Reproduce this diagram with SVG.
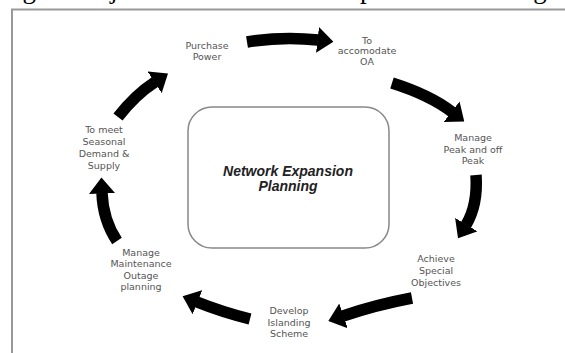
<svg xmlns="http://www.w3.org/2000/svg" width="565" height="353" viewBox="0 0 565 353">
<style>
.lbl{font-family:"DejaVu Sans","Liberation Sans",sans-serif;font-size:9.5px;fill:#555;text-anchor:middle}
.arr{fill:none;stroke:#000;stroke-width:11.5;stroke-linecap:butt}
.center{font-family:"Liberation Sans",Arial,sans-serif;font-size:14px;font-weight:bold;font-style:italic;fill:#222;text-anchor:middle}
</style>
<defs>
<marker id="head" markerUnits="userSpaceOnUse" viewBox="0 0 16 26" markerWidth="16" markerHeight="26" refX="0.5" refY="13" orient="auto">
<path d="M0,0 L16,13 L0,26 z" fill="#000"/>
</marker>
</defs>
<rect width="565" height="353" fill="#fff"/>
<text x="0" y="-2" font-family="Liberation Serif,serif" font-size="27" fill="#000">Fig. 3: Objectives of Network Expansion Planning</text>
<rect x="12" y="9.5" width="620" height="400" fill="none" stroke="#999" stroke-width="2"/>
<g id="center">
<rect x="188" y="107" width="201" height="141" rx="24" fill="#fff" stroke="#888" stroke-width="1.5"/>
<text class="center" x="288" y="176">Network Expansion</text>
<text class="center" x="288" y="191">Planning</text>
</g>
<g id="connectors">
<path class="arr" d="M247,42 Q283,36 318,40" stroke-width="12" marker-end="url(#head)"/>
<path class="arr" d="M392,83 Q430,95 452,112" marker-end="url(#head)"/>
<path class="arr" d="M476,175 Q478,205 466,225" stroke-width="12" marker-end="url(#head)"/>
<path class="arr" d="M412,298 Q375,305 343,316" marker-end="url(#head)"/>
<path class="arr" d="M250,319 Q222,312 197,302" marker-end="url(#head)"/>
<path class="arr" d="M117,241 Q103,220 102,193" marker-end="url(#head)"/>
<path class="arr" d="M118,117 Q135,95 155,82" marker-end="url(#head)"/>
</g>
<g id="purchase-power">
<text class="lbl" x="207" y="49">Purchase</text>
<text class="lbl" x="207" y="60">Power</text>
</g>
<g id="accomodate-oa">
<text class="lbl" x="367" y="44">To</text>
<text class="lbl" x="367" y="54">accomodate</text>
<text class="lbl" x="367" y="65">OA</text>
</g>
<g id="peak">
<text class="lbl" x="473" y="141">Manage</text>
<text class="lbl" x="473" y="153">Peak and off</text>
<text class="lbl" x="473" y="164">Peak</text>
</g>
<g id="special">
<text class="lbl" x="436" y="262">Achieve</text>
<text class="lbl" x="436" y="274">Special</text>
<text class="lbl" x="436" y="286">Objectives</text>
</g>
<g id="islanding">
<text class="lbl" x="289" y="314">Develop</text>
<text class="lbl" x="289" y="326">Islanding</text>
<text class="lbl" x="289" y="337">Scheme</text>
</g>
<g id="maintenance">
<text class="lbl" x="141" y="256">Manage</text>
<text class="lbl" x="141" y="267">Maintenance</text>
<text class="lbl" x="141" y="279">Outage</text>
<text class="lbl" x="141" y="290">planning</text>
</g>
<g id="seasonal">
<text class="lbl" x="104" y="133">To meet</text>
<text class="lbl" x="104" y="145">Seasonal</text>
<text class="lbl" x="104" y="157">Demand &amp;</text>
<text class="lbl" x="104" y="169">Supply</text>
</g>
</svg>
